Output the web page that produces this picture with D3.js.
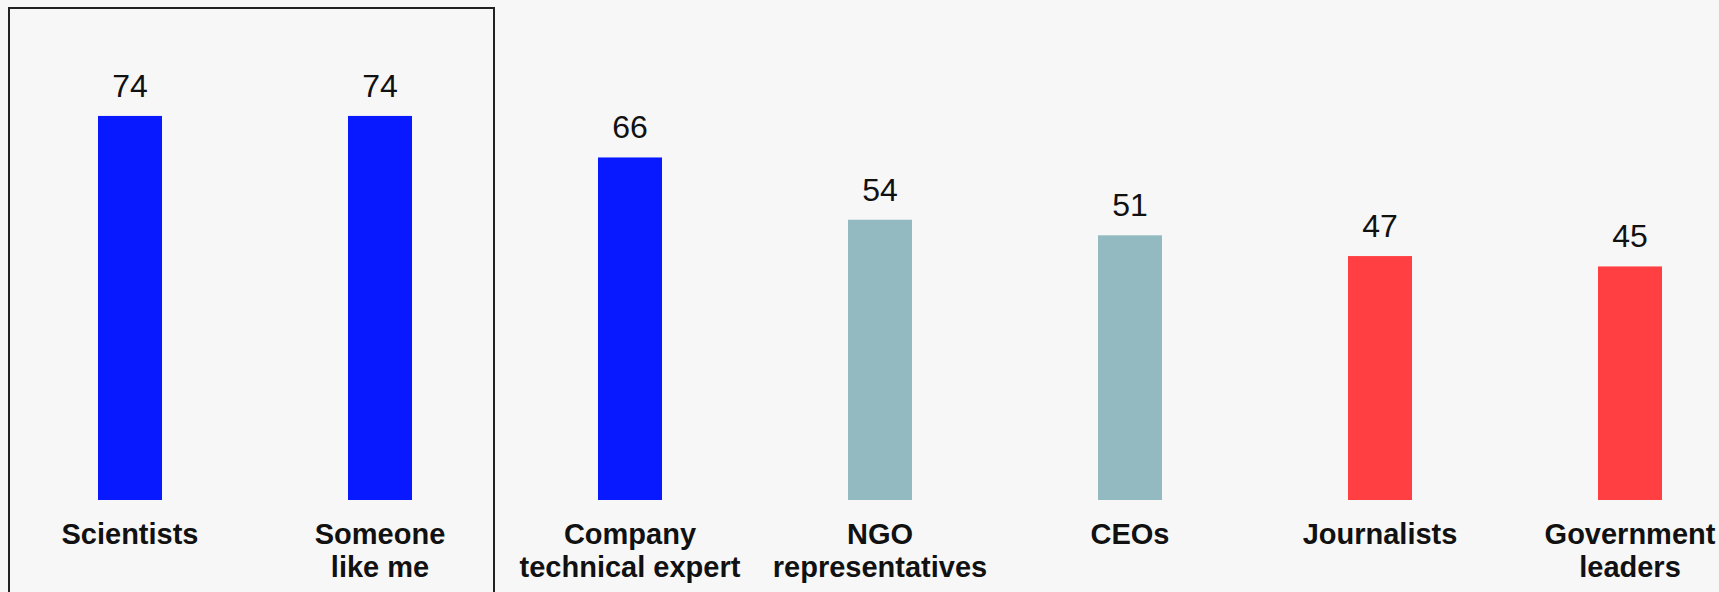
<!DOCTYPE html>
<html>
  <head>
    <title>Trust in spokespeople</title>
    <script src="https://d3js.org/d3.v7.min.js"></script>
    <style>
      body { margin: 0; background: #f7f7f7; }
      svg { display: block; }
      .value { font-family: "Liberation Sans", Arial, sans-serif; font-size: 32px; fill: #111; }
      .cat { font-family: "Liberation Sans", Arial, sans-serif; font-size: 29px; font-weight: bold; fill: #111; }
    </style>
  </head>
  <body>
    <svg width="1719" height="592"></svg>
    <script>
      // Data
      const categories = ["Scientists", "Someone like me", "Company technical expert", "NGO representatives", "CEOs", "Journalists", "Government leaders"];
      const labelLines = [["Scientists"], ["Someone", "like me"], ["Company", "technical expert"], ["NGO", "representatives"], ["CEOs"], ["Journalists"], ["Government", "leaders"]];
      const values = [74, 74, 66, 54, 51, 47, 45];
      const groups = ["high", "high", "high", "mid", "mid", "low", "low"];

      const width = 1719;
      const height = 592;
      const baseline = 500;

      const color = d3.scaleOrdinal()
        .domain(["high", "mid", "low"])
        .range(["#0819ff", "#93bac0", "#ff3f42"]);

      // bands of 250px, bars 64px wide
      const x = d3.scaleBand()
        .domain(categories)
        .range([5, 1755])
        .paddingInner(0.744)
        .paddingOuter(0.372);

      const y = d3.scaleLinear()
        .domain([0, 100])
        .range([baseline, baseline - 519]);

      const svg = d3.select("svg")
        .attr("viewBox", [0, 0, width, height]);

      // highlight box round the first two bars
      svg.append("rect")
        .attr("x", 9)
        .attr("y", 8)
        .attr("width", 485)
        .attr("height", 600)
        .attr("fill", "none")
        .attr("stroke", "#222")
        .attr("stroke-width", 2);

      svg.selectAll("rect.bar")
        .data(categories)
        .join("rect")
        .attr("class", "bar")
        .attr("x", d => x(d))
        .attr("y", (d, i) => y(values[i]))
        .attr("width", x.bandwidth())
        .attr("height", (d, i) => baseline - y(values[i]))
        .attr("fill", (d, i) => color(groups[i]));

      svg.selectAll("text.value")
        .data(categories)
        .join("text")
        .attr("class", "value")
        .attr("x", d => x(d) + x.bandwidth() / 2)
        .attr("y", (d, i) => y(values[i]) - 19)
        .attr("text-anchor", "middle")
        .text((d, i) => values[i]);

      const cats = svg.selectAll("text.cat")
        .data(categories)
        .join("text")
        .attr("class", "cat")
        .attr("text-anchor", "middle")
        .attr("x", d => x(d) + x.bandwidth() / 2)
        .attr("y", 544);

      cats.selectAll("tspan")
        .data((d, i) => labelLines[i].map(l => ({ l, cx: x(d) + x.bandwidth() / 2 })))
        .join("tspan")
        .attr("x", d => d.cx)
        .attr("dy", (d, j) => j === 0 ? 0 : 33)
        .text(d => d.l);
    </script>
  </body>
</html>
